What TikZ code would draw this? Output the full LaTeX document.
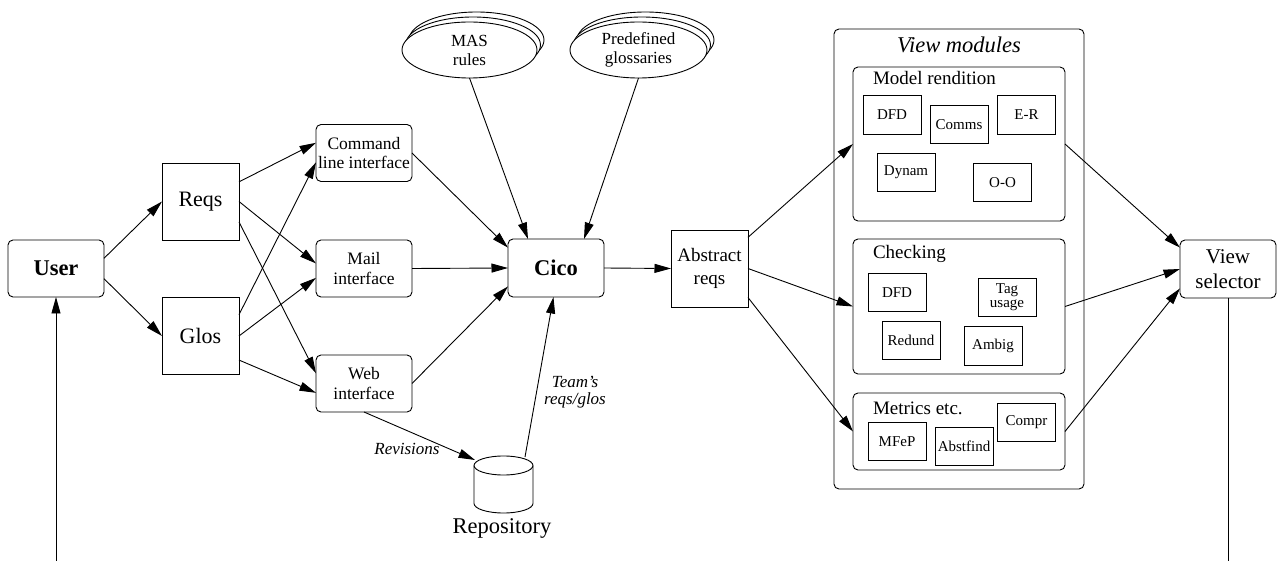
\documentclass[tikz,border=0pt]{standalone}
\usepackage{fontspec}
\setmainfont{Liberation Serif}
\usetikzlibrary{arrows.meta,calc,shapes.geometric}
\begin{document}
\begin{tikzpicture}[x=1pt,y=1pt,
  every node/.style={inner sep=0pt, outer sep=0pt},
  lw/.style={line width=0.9pt},
  rbox/.style={draw, lw, rounded corners=5pt, minimum width=96pt, minimum height=57pt, align=center},
  sbox/.style={draw, lw, minimum width=77pt, minimum height=77pt, align=center},
  ibox/.style={draw, lw, minimum width=58pt, minimum height=38.5pt, align=center, font=\fontsize{15}{14}\selectfont},
  grp/.style={draw, lw, rounded corners=5pt},
  stackel/.style={draw, lw, ellipse, fill=white, minimum width=135pt, minimum height=56pt, align=center, font=\fontsize{17}{19}\selectfont},
  conn/.style={lw, -{Triangle[length=16.5pt,width=9pt]}},
  plainline/.style={lw},
  bigbold/.style={font=\fontsize{22.5}{25}\selectfont\bfseries},
  big/.style={font=\fontsize{22}{25}\selectfont},
  mid/.style={font=\fontsize{17.5}{19.5}\selectfont},
  grplabel/.style={anchor=base west, font=\fontsize{19}{22}\selectfont},
  edgelabel/.style={align=center, font=\fontsize{17}{16.5}\selectfont\itshape}
]
\useasboundingbox (0,0) rectangle (1278,-561);

% left part
\node[rbox, bigbold] (user) at (56,-268.5) {User};
\node[sbox, big] (reqs) at (200.5,-201.5) {Reqs};
\node[sbox, big] (glos) at (200.5,-336) {Glos};
\node[rbox, mid] (cmd) at (364,-153) {Command\\line interface};
\node[rbox, mid] (mail) at (364,-268.5) {Mail\\interface};
\node[rbox, mid] (web) at (364,-383.5) {Web\\interface};
\node[rbox, bigbold, minimum height=58pt] (cico) at (556,-268) {Cico};
\node[sbox, font=\fontsize{19}{23}\selectfont] (abs) at (709.5,-268.5) {Abstract\\reqs};

% stacked ellipses
\node[stackel] (mas3) at (476.5,-40) {};
\node[stackel] (mas2) at (473,-45) {};
\node[stackel] (mas) at (469.5,-50) {MAS\\rules};
\node[stackel, minimum width=137pt] (pre3) at (645.5,-40) {};
\node[stackel, minimum width=137pt] (pre2) at (642,-45) {};
\node[stackel, minimum width=137pt] (pre) at (638.5,-50) {Predefined\\glossaries};

% repository
\node[minimum width=59pt, minimum height=57pt] (repo) at (503.5,-484.5) {};
\draw[lw] ($(repo.north west)+(0,-9.5)$) -- ($(repo.south west)+(0,9.5)$)
  arc[start angle=180, end angle=360, x radius=29.5pt, y radius=9.5pt]
  -- ($(repo.north east)+(0,-9.5)$);
\draw[lw] ($(repo.north)+(0,-9.5)$) ellipse[x radius=29.5pt, y radius=9.5pt];
\node[anchor=base, font=\fontsize{22.5}{25}\selectfont] (repolabel) at (502,-533.5) {Repository};

% view modules
\node[grp, minimum width=250pt, minimum height=460pt] (views) at (959,-259) {};
\node[anchor=base, font=\fontsize{22.5}{25}\selectfont\itshape] (viewslabel) at (959,-53) {View modules};
\node[grp, minimum width=212pt, minimum height=154pt] (model) at (959,-144) {};
\node[grplabel] (modellabel) at (873,-85) {Model rendition};
\node[ibox] (dfd1) at (892,-115) {DFD};
\node[ibox] (comms) at (959,-124.5) {Comms};
\node[ibox] (er) at (1026.5,-115) {E-R};
\node[ibox] (dynam) at (906,-172.5) {Dynam};
\node[ibox] (oo) at (1002.5,-182.5) {O-O};

\node[grp, minimum width=212pt, minimum height=135pt] (check) at (959,-306.5) {};
\node[grplabel] (checklabel) at (873,-258.5) {Checking};
\node[ibox] (dfd2) at (897,-292.5) {DFD};
\node[ibox] (tag) at (1007,-297.5) {Tag\\usage};
\node[ibox] (redund) at (911,-340.5) {Redund};
\node[ibox] (ambig) at (993,-346) {Ambig};

\node[grp, minimum width=212pt, minimum height=77pt] (metrics) at (959,-431.5) {};
\node[grplabel] (metricslabel) at (873,-414) {Metrics etc.};
\node[ibox] (mfep) at (897,-441.5) {MFeP};
\node[ibox] (abstfind) at (964,-446.5) {Abstfind};
\node[ibox] (compr) at (1026.5,-422.5) {Compr};

\node[rbox, font=\fontsize{21}{25}\selectfont, minimum height=58pt] (vs) at (1228,-269) {View\\selector};

\coordinate (userbot) at (56,-561);
\coordinate (vsbot) at (1228,-561);

% connectors
\draw[conn] (user.12) -- (reqs.west);
\draw[conn] (user.-12) -- (glos.west);
\draw[conn] (reqs.27) -- (cmd.168);
\draw[conn] (reqs.east) -- (mail.174);
\draw[conn] (reqs.-28) -- (web.168);
\draw[conn] (glos.29) -- (cmd.191);
\draw[conn] (glos.east) -- (mail.191);
\draw[conn] (glos.-32) -- (web.191);
\draw[conn] (cmd.east) -- (cico.157);
\draw[conn] (mail.east) -- (cico.west);
\draw[conn] (web.east) -- (cico.201);
\draw[conn] (mas.south) -- (cico.134);
\draw[conn] (pre.south) -- (cico.46);
\draw[conn] (cico.east) -- (abs.west);
\draw[conn] (web.south) -- ($(repo.north west)+(1,-4)$);
\draw[conn] ($(repo.north east)+(-8,-1)$) -- (cico.265);
\draw[conn] (abs.39) -- (model.west);
\draw[conn] (abs.east) -- (check.west);
\draw[conn] (abs.-37.5) -- (metrics.west);
\draw[conn] (model.east) -- (vs.156);
\draw[conn] (check.east) -- (vs.west);
\draw[conn] (metrics.east) -- (vs.202);
\draw[plainline] (vs.south) -- (vsbot);
\draw[conn] (userbot) -- (user.south);

\node[edgelabel] (revlabel) at (407,-449) {Revisions};
\node[edgelabel] (teamlabel) at (575,-392) {Team’s\\reqs/glos};
\end{tikzpicture}
\end{document}
